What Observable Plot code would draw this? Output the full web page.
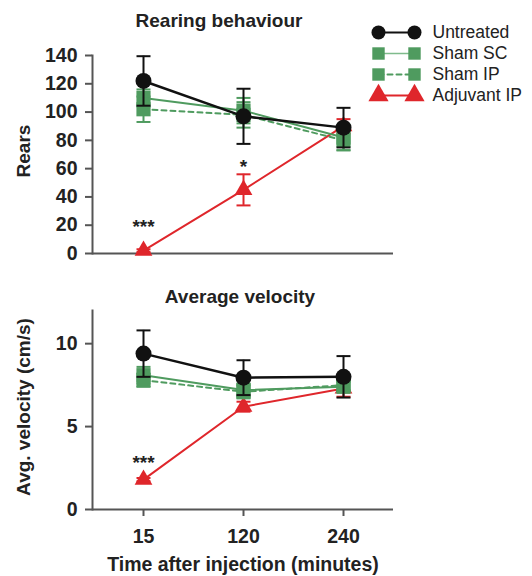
<!DOCTYPE html>
<html><head><meta charset="utf-8">
<script src="https://cdn.jsdelivr.net/npm/d3@7"></script>
<script src="https://cdn.jsdelivr.net/npm/@observablehq/plot@0.6"></script>
<style>
body{margin:0;background:#fff;font-family:"Liberation Sans",Arial,sans-serif;}
#wrap{position:relative;width:532px;height:576px;overflow:hidden;background:#fff}
.abs{position:absolute}
.abs svg{background:transparent!important}
.title{font-weight:bold;font-size:19px;color:#222;white-space:nowrap;transform:translate(-50%,-50%)}
.ylab{font-weight:bold;font-size:19px;color:#222;white-space:nowrap;transform:translate(-50%,-50%) rotate(-90deg)}
</style></head>
<body><div id="wrap"></div>
<script>
// ---- data ----
const times = ["15", "120", "240"];
const series = ["Untreated", "Sham SC", "Sham IP", "Adjuvant IP"];
const seriesColors = ["#111111", "#4f9b5f", "#4f9b5f", "#df262b"];
const seriesSymbols = ["circle", "square", "square", "triangle"];
const seriesDash = [null, null, "5,4", null];

// Rearing behaviour (rears), mean and error
const rearUntreated = [122, 97, 89];
const rearUntreatedErr = [17.5, 19.5, 14];
const rearShamSC = [110, 101, 82];
const rearShamSCErr = [6, 9, 9];
const rearShamIP = [102, 98, 80];
const rearShamIPErr = [9, 9, 7];
const rearAdjuvant = [2, 45, 90];
const rearAdjuvantErr = [1, 11, 5];

// Average velocity (cm/s)
const velUntreated = [9.4, 7.95, 8.0];
const velUntreatedErr = [1.4, 1.05, 1.25];
const velShamSC = [8.1, 7.2, 7.4];
const velShamSCErr = [0.5, 0.4, 0.3];
const velShamIP = [7.8, 7.1, 7.5];
const velShamIPErr = [0.4, 0.4, 0.3];
const velAdjuvant = [1.8, 6.2, 7.3];
const velAdjuvantErr = [0.1, 0.3, 0.5];

const rearTicks = [0, 20, 40, 60, 80, 100, 120, 140];
const velTicks = [0, 5, 10];

const rearStarTimes = ["15", "120"];
const rearStarLabels = ["***", "*"];
const rearStarY = [19, 61];
const velStarTimes = ["15"];
const velStarLabels = ["***"];
const velStarY = [2.8];

// ---- build tables ----
function rowsFrom(means, errs) {
  const out = [];
  series.forEach((s, i) => times.forEach((t, j) => out.push({series: s, time: t, mean: means[i][j], err: errs[i][j]})));
  return out;
}
const rearRows = rowsFrom([rearUntreated, rearShamSC, rearShamIP, rearAdjuvant],
                         [rearUntreatedErr, rearShamSCErr, rearShamIPErr, rearAdjuvantErr]);
const velRows = rowsFrom([velUntreated, velShamSC, velShamIP, velAdjuvant],
                        [velUntreatedErr, velShamSCErr, velShamIPErr, velAdjuvantErr]);

const hbar = {draw(ctx, size) { const w = Math.sqrt(size / Math.PI); ctx.moveTo(-w, 0); ctx.lineTo(w, 0); }};
const symSize = {circle: 8, square: 8, triangle: 6.6};
const drawOrder = [3, 1, 2, 0];

function seriesMarks(rows) {
  const m = [];
  for (const i of drawOrder) {
    const s = series[i], c = seriesColors[i];
    const d = rows.filter(r => r.series === s);
    m.push(Plot.ruleX(d, {x: "time", y1: r => r.mean - r.err, y2: r => r.mean + r.err, stroke: c, strokeWidth: 2}));
    m.push(Plot.dot(d, {x: "time", y: r => r.mean + r.err, symbol: hbar, r: 7, stroke: c, strokeWidth: 2, fill: "none"}));
    m.push(Plot.dot(d, {x: "time", y: r => r.mean - r.err, symbol: hbar, r: 7, stroke: c, strokeWidth: 2, fill: "none"}));
    m.push(Plot.line(d, {x: "time", y: "mean", stroke: c, strokeWidth: i === 0 ? 2.5 : 2, strokeDasharray: seriesDash[i]}));
    m.push(Plot.dot(d, {x: "time", y: "mean", symbol: seriesSymbols[i], r: symSize[seriesSymbols[i]], fill: c, stroke: "none"}));
  }
  return m;
}

function panel({rows, yDomain, yTicks, height, marginTop, marginBottom, xLabels, stars}) {
  return Plot.plot({
    width: 532, height, marginLeft: 92, marginRight: 139, marginTop, marginBottom,
    style: {fontFamily: "Liberation Sans, Arial, sans-serif", fontSize: "19.5px", fontWeight: "bold", color: "#222", background: "transparent"},
    x: {type: "point", domain: times, padding: 0.5},
    y: {domain: yDomain},
    marks: [
      Plot.ruleY([yDomain[0]], {stroke: "#555", strokeWidth: 2}),
      Plot.frame({anchor: "left", stroke: "#555", strokeWidth: 2}),
      Plot.axisY({ticks: yTicks, tickSize: 7, tickPadding: 8, label: null, stroke: "#555", strokeWidth: 2}),
      xLabels ? Plot.axisX({tickSize: 7, tickPadding: 13, label: null, stroke: "#555", strokeWidth: 2}) : Plot.axisX({ticks: [], label: null}),
      ...seriesMarks(rows),
      Plot.text(stars.times.map((t, k) => ({time: t, y: stars.y[k], label: stars.labels[k]})), {x: "time", y: "y", text: "label", fontSize: 19, fontWeight: "bold"})
    ]
  });
}

const wrap = document.getElementById("wrap");
function place(el, left, top) { const d = document.createElement("div"); d.className = "abs"; d.style.left = left + "px"; d.style.top = top + "px"; d.appendChild(el); wrap.appendChild(d); return d; }
function label(text, cls, x, y) { const d = document.createElement("div"); d.className = "abs " + cls; d.textContent = text; d.style.left = x + "px"; d.style.top = y + "px"; wrap.appendChild(d); return d; }

place(panel({rows: rearRows, yDomain: [0, 140], yTicks: rearTicks, height: 263, marginTop: 55, marginBottom: 10, xLabels: false,
  stars: {times: rearStarTimes, labels: rearStarLabels, y: rearStarY}}), 0, 0);
place(panel({rows: velRows, yDomain: [0, 12], yTicks: velTicks, height: 296, marginTop: 30, marginBottom: 67, xLabels: true,
  stars: {times: velStarTimes, labels: velStarLabels, y: velStarY}}), 0, 280);

// legend
const legendRows = [];
series.forEach(s => [0, 1].forEach(p => legendRows.push({series: s, p})));
const legendMarks = [];
series.forEach((s, i) => {
  const d = legendRows.filter(r => r.series === s);
  legendMarks.push(Plot.line(d, {x: "p", y: "series", stroke: i === 1 ? "#7fbb8c" : seriesColors[i], strokeWidth: i === 1 ? 1.5 : 2, strokeDasharray: seriesDash[i]}));
  legendMarks.push(Plot.dot(d, {x: "p", y: "series", symbol: seriesSymbols[i], r: seriesSymbols[i] === "triangle" ? 7.5 : 7, fill: seriesColors[i], stroke: "none"}));
});
legendMarks.push(Plot.text(series, {x: () => 1, y: d => d, text: d => d, dx: 18, textAnchor: "start", fontSize: 17.5}));
const legend = Plot.plot({
  width: 172, height: 125, margin: 0,
  style: {fontFamily: "Liberation Sans, Arial, sans-serif", color: "#222", background: "transparent"},
  x: {domain: [0, 1], range: [18, 54], axis: null},
  y: {type: "point", domain: series, range: [20, 106], axis: null},
  marks: legendMarks
});
place(legend, 360, 0);

label("Rearing behaviour", "title", 219, 21);
label("Average velocity", "title", 240, 297);
label("Rears", "ylab", 24, 151);
label("Avg. velocity (cm/s)", "ylab", 24, 407);
label("Time after injection (minutes)", "title", 243, 564).style.fontSize = "19.5px";
</script>
</body></html>
